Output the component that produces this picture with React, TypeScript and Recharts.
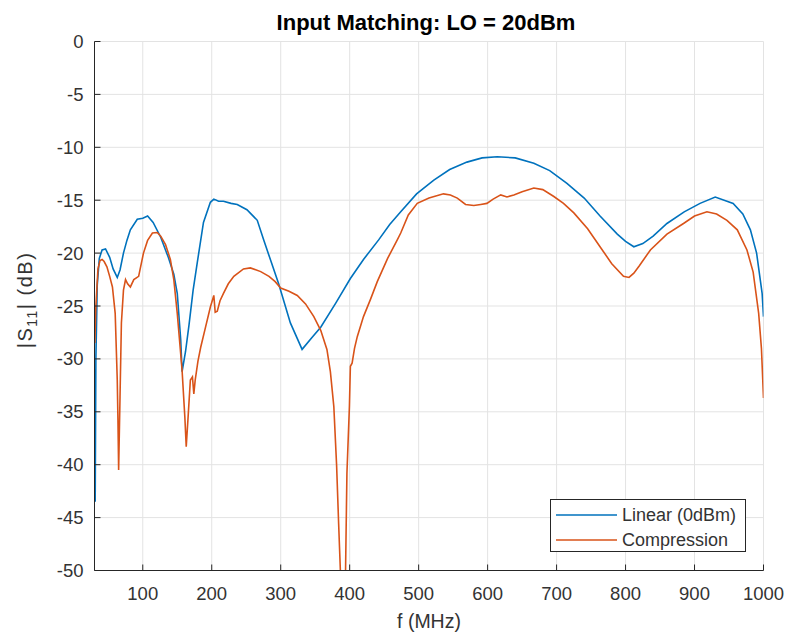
import { LineChart, Line, XAxis, YAxis, CartesianGrid, Legend } from "recharts";

// Linear (0dBm) sweep
const freqLinear = [
  31, 32, 34, 37, 41, 46, 52, 57, 63, 67, 72, 77, 82, 92, 100, 107, 115, 126, 137, 145,
  150, 155, 157, 162, 167, 173, 179, 188, 198, 203, 210, 217, 228, 237, 251, 266, 275, 286,
  297, 314, 331, 345, 358, 380, 401, 420, 442, 458, 474, 497, 522, 545, 570, 592, 614, 640,
  667, 690, 715, 740, 763, 788, 800, 812, 825, 840, 860, 885, 908, 930, 956, 970, 981, 990,
  998, 1000,
];
const s11Linear = [
  -43.5, -30, -23, -20.5, -19.7, -19.6, -20.4, -21.5, -22.3, -21.6, -20.0, -18.8, -17.8, -16.8,
  -16.7, -16.5, -17.1, -18.5, -20.4, -22.0, -23.8, -28.2, -31.2, -29.3, -26.8, -23.5, -20.9,
  -17.1, -15.2, -14.9, -15.1, -15.1, -15.3, -15.4, -15.9, -16.9, -18.7, -20.8, -22.9, -26.6,
  -29.1, -28.0, -27.0, -24.7, -22.4, -20.6, -18.75, -17.3, -16.1, -14.4, -13.1, -12.1, -11.4,
  -11.0, -10.9, -11.0, -11.5, -12.2, -13.4, -14.8, -16.5, -18.2, -18.9, -19.4, -19.1, -18.4,
  -17.2, -16.1, -15.3, -14.7, -15.3, -16.3, -17.8, -20.0, -23.8, -26.0,
];

// Compression sweep
const freqComp = [
  30.5, 32, 35, 38, 41, 44, 48, 52, 56, 60, 63, 64, 65, 67, 69, 72, 75, 78, 82, 87, 94, 101,
  107, 114, 121, 126, 133, 140, 145, 150, 157, 161, 163, 166, 169, 172, 174, 176, 180, 184,
  191, 198, 203, 205, 208, 212, 217, 224, 232, 246, 256, 271, 283, 292, 300, 312, 324, 336,
  348, 358, 367, 372, 377, 381, 384, 386.5, 388.5, 392, 394, 396, 399.6, 401, 403.5, 407, 411,
  420, 430, 440, 455, 469, 474, 485, 498, 515, 536, 546, 556, 568, 580, 590, 599, 608, 619,
  628, 638, 650, 667, 680, 696, 710, 725, 745, 763, 780, 797, 805, 812, 820, 836, 860, 884,
  900, 918, 932, 947, 962, 976, 985, 993, 997, 1000,
];
const s11Comp = [
  -28.5, -25.0, -21.5, -20.7, -20.6, -20.8, -21.3, -22.2, -23.2, -25.7, -32.0, -35.8, -40.5,
  -33.6, -26.6, -23.5, -22.5, -22.9, -23.2, -22.5, -22.2, -20.0, -18.8, -18.1, -18.05, -18.4,
  -19.2, -20.6, -22.5, -25.7, -31.1, -35.5, -38.3, -35.2, -32.0, -31.7, -33.3, -32.0, -30.2,
  -28.9, -27.0, -25.1, -24.0, -25.6, -25.5, -24.5, -23.8, -22.9, -22.2, -21.5, -21.4, -21.75,
  -22.2, -22.7, -23.3, -23.6, -24.0, -24.8, -26.0, -27.3, -29.1, -31.2, -34.5, -40.0, -45.6,
  -50.0, -53.0, -52.0, -50.0, -40.8, -34.5, -30.7, -30.4, -29.0, -27.9, -26.0, -24.4, -22.7,
  -20.5, -18.75, -18.1, -16.4, -15.3, -14.8, -14.4, -14.5, -14.8, -15.4, -15.5, -15.4, -15.3,
  -14.9, -14.5, -14.7, -14.5, -14.2, -13.85, -14.0, -14.65, -15.3, -16.2, -17.7, -19.4, -21.0,
  -22.2, -22.3, -21.9, -21.2, -19.7, -18.2, -17.2, -16.5, -16.1, -16.3, -16.9, -17.8, -19.7,
  -21.8, -25.7, -29.0, -33.7,
];

const xTicks = [100, 200, 300, 400, 500, 600, 700, 800, 900, 1000];
const yTicks = [-50, -45, -40, -35, -30, -25, -20, -15, -10, -5, 0];

const BLUE = "#0072BD";
const ORANGE = "#D95319";
const AXIS = "#262626";
const FONT = '"Liberation Sans", Arial, sans-serif';

const linearData = freqLinear.map((f, i) => ({ f, s11: s11Linear[i] }));
const compData = freqComp.map((f, i) => ({ f, s11: s11Comp[i] }));

const tickStyle = { fontSize: 18.5, fill: "#333", fontFamily: FONT };

/* MATLAB-style legend box in the lower right corner */
function LegendBox() {
  const rows = [
    { name: "Linear (0dBm)", color: BLUE },
    { name: "Compression", color: ORANGE },
  ];
  return (
    <div
      style={{
        width: 194,
        height: 51,
        border: `1px solid ${AXIS}`,
        background: "#fff",
        fontFamily: FONT,
        fontSize: 18,
        color: "#333",
        boxSizing: "content-box",
      }}
    >
      {rows.map((r, i) => (
        <div key={r.name} style={{ position: "absolute", left: 0, top: 4 + i * 25, height: 24, display: "flex", alignItems: "center" }}>
          <svg width={72} height={24} style={{ display: "block" }}>
            <line x1={6} x2={67} y1={12} y2={12} stroke={r.color} strokeWidth={1.6} />
          </svg>
          <span style={{ lineHeight: "24px", whiteSpace: "nowrap" }}>{r.name}</span>
        </div>
      ))}
    </div>
  );
}

export default function App() {
  return (
    <div style={{ position: "absolute", left: 0, top: 0, width: 788, height: 636, background: "#fff" }}>
      <LineChart width={788} height={636} margin={{ top: 41.5, right: 24.5, left: 0, bottom: 35.5 }}>
        <CartesianGrid stroke="#e3e3e3" strokeWidth={1} />
        <XAxis
          dataKey="f"
          type="number"
          domain={[30, 1000]}
          ticks={xTicks}
          allowDataOverflow
          height={30}
          stroke={AXIS}
          tick={tickStyle}
          tickSize={-6}
          tickMargin={22.5}
        />
        <XAxis
          xAxisId="top"
          orientation="top"
          type="number"
          domain={[30, 1000]}
          ticks={xTicks}
          height={0}
          stroke={AXIS}
          tickFormatter={() => ""}
          tickSize={-6}
        />
        <YAxis
          type="number"
          domain={[-50, 0]}
          ticks={yTicks}
          allowDataOverflow
          width={94.5}
          stroke={AXIS}
          tick={tickStyle}
          tickSize={-6}
          tickMargin={17}
        />
        <YAxis
          yAxisId="right"
          orientation="right"
          type="number"
          domain={[-50, 0]}
          ticks={yTicks}
          width={0}
          stroke={AXIS}
          tickFormatter={() => ""}
          tickSize={-6}
        />
        <Line
          data={linearData}
          dataKey="s11"
          name="Linear (0dBm)"
          type="linear"
          stroke={BLUE}
          strokeWidth={1.6}
          dot={false}
          isAnimationActive={false}
        />
        <Line
          data={compData}
          dataKey="s11"
          name="Compression"
          type="linear"
          stroke={ORANGE}
          strokeWidth={1.6}
          dot={false}
          isAnimationActive={false}
        />
        <Legend
          layout="vertical"
          align="center"
          verticalAlign="middle"
          wrapperStyle={{ position: "absolute", left: 550, top: 499, width: 196, height: 53 }}
          content={() => <LegendBox />}
        />
      </LineChart>

      {/* title and axis labels */}
      <svg width={788} height={636} style={{ position: "absolute", left: 0, top: 0, pointerEvents: "none" }}>
        <text x={426} y={30} textAnchor="middle" fontFamily={FONT} fontWeight="bold" fontSize={22} fill="#000">
          Input Matching: LO = 20dBm
        </text>
        <text x={429} y={628} textAnchor="middle" fontFamily={FONT} fontSize={19.5} fill="#333">
          f (MHz)
        </text>
        <text
          transform="translate(32,300) rotate(-90)"
          textAnchor="middle"
          fontFamily={FONT}
          fontSize={20}
          fill="#333"
          letterSpacing={1.5}
        >
          |S
          <tspan fontSize={14} dy={5}>11</tspan>
          <tspan dy={-5}>| (dB)</tspan>
        </text>
      </svg>
    </div>
  );
}
